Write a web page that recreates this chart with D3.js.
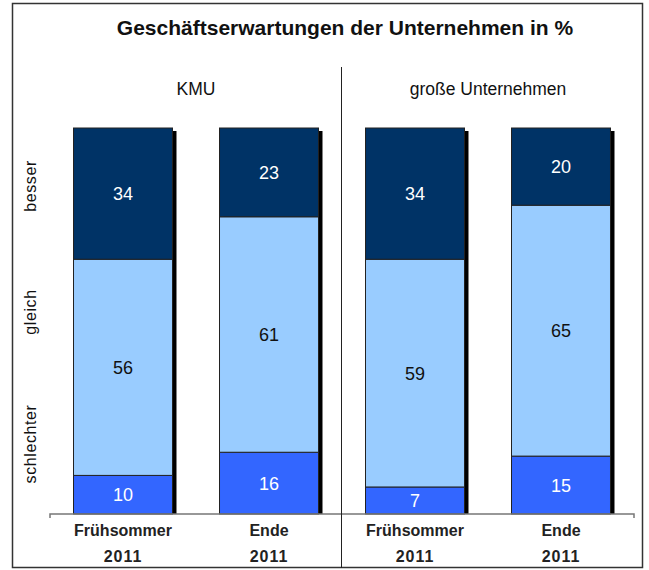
<!DOCTYPE html>
<html>
<head>
<meta charset="utf-8">
<script src="https://cdn.jsdelivr.net/npm/d3@7"></script>
<style>
  body { margin: 0; background: #fff; }
  text { font-family: "Liberation Sans", Arial, sans-serif; }
</style>
</head>
<body>
<div id="grafico"></div>
<script>
// datos
const grupos = ["KMU", "große Unternehmen"];
const periodos = ["Frühsommer", "Ende", "Frühsommer", "Ende"];
const anios = ["2011", "2011", "2011", "2011"];
const schlechter = [10, 16, 7, 15];
const gleich = [56, 61, 59, 65];
const besser = [34, 23, 34, 20];
const series = ["schlechter", "gleich", "besser"];

grafico();
function grafico(){
	var ancho = 649, alto = 570;
	var colores = {schlechter: "#3366ff", gleich: "#99ccff", besser: "#003366"};
	var colorTexto = {schlechter: "#fff", gleich: "#111", besser: "#fff"};

	var svg = d3.select("#grafico").append("svg")
		.attr("width", ancho).attr("height", alto);

	// marco
	svg.append("rect")
		.attr("x", 12.5).attr("y", 3.5)
		.attr("width", 630).attr("height", 564)
		.attr("fill", "none").attr("stroke", "#333").attr("stroke-width", 1.5);

	svg.append("text")
		.attr("x", 345).attr("y", 35)
		.attr("text-anchor", "middle")
		.style("font-size", "21px").style("font-weight", "bold")
		.attr("fill", "#111")
		.text("Geschäftserwartungen der Unternehmen in %");

	var data = periodos.map((p, i) => ({
		id: i, periodo: p, anio: anios[i],
		schlechter: schlechter[i], gleich: gleich[i], besser: besser[i]
	}));

	var x = d3.scaleBand().domain(data.map(d => d.id))
		.range([50, 634]).paddingInner(0.322).paddingOuter(0.161);
	var y = d3.scaleLinear().domain([0, 100]).range([514, 128]);

	var apilado = d3.stack().keys(series)(data);

	// sombra de las barras
	svg.selectAll(".sombra").data(data).enter().append("rect")
		.attr("class", "sombra")
		.attr("x", d => x(d.id) + 4)
		.attr("y", y(100) + 3)
		.attr("width", x.bandwidth())
		.attr("height", y(0) - y(100) - 3)
		.attr("fill", "#000");

	var capas = svg.selectAll(".capa").data(apilado).enter().append("g")
		.attr("class", "capa");

	capas.selectAll("rect").data(d => d.map(v => Object.assign(v, {serie: d.key})))
		.enter().append("rect")
		.attr("x", d => x(d.data.id))
		.attr("y", d => y(d[1]))
		.attr("width", x.bandwidth())
		.attr("height", d => y(d[0]) - y(d[1]))
		.attr("fill", d => colores[d.serie])
		.attr("stroke", "#222").attr("stroke-width", 1);

	capas.selectAll("text").data(d => d).enter().append("text")
		.attr("x", d => x(d.data.id) + x.bandwidth() / 2)
		.attr("y", d => (y(d[0]) + y(d[1])) / 2)
		.attr("dy", "0.36em")
		.attr("text-anchor", "middle")
		.style("font-size", "18px")
		.attr("fill", d => colorTexto[d.serie])
		.text(d => d[1] - d[0]);

	// eje
	svg.append("path")
		.attr("d", `M50,518V514H634V518`)
		.attr("fill", "none").attr("stroke", "#777").attr("stroke-width", 1.5);

	// divisor
	svg.append("line")
		.attr("x1", 341.5).attr("x2", 341.5).attr("y1", 67).attr("y2", 568)
		.attr("stroke", "#222").attr("stroke-width", 1);

	// nombres de grupo
	grupos.forEach(function(g, i){
		var cx = (x(i * 2) + x(i * 2 + 1) + x.bandwidth()) / 2;
		svg.append("text")
			.attr("x", cx).attr("y", 95)
			.attr("text-anchor", "middle")
			.style("font-size", "17.5px")
			.attr("fill", "#111")
			.text(g);
	});

	// etiquetas de categoria
	svg.selectAll(".periodo").data(data).enter().append("text")
		.attr("class", "periodo")
		.attr("x", d => x(d.id) + x.bandwidth() / 2)
		.attr("y", 536)
		.attr("text-anchor", "middle")
		.style("font-size", "16px").style("font-weight", "bold")
		.attr("fill", "#222")
		.text(d => d.periodo);
	svg.selectAll(".anio").data(data).enter().append("text")
		.attr("class", "anio")
		.attr("x", d => x(d.id) + x.bandwidth() / 2)
		.attr("y", 562)
		.attr("text-anchor", "middle")
		.style("font-size", "16px").style("font-weight", "bold")
		.style("letter-spacing", "1px")
		.attr("fill", "#222")
		.text(d => d.anio);

	// leyenda vertical
	var posLeyenda = {besser: 186, gleich: 312, schlechter: 444};
	series.forEach(function(s){
		svg.append("text")
			.attr("transform", `translate(36,${posLeyenda[s]}) rotate(-90)`)
			.attr("text-anchor", "middle")
			.style("font-size", "16px")
			.style("letter-spacing", "0.6px")
			.attr("fill", "#111")
			.text(s);
	});
}
</script>
</body>
</html>
